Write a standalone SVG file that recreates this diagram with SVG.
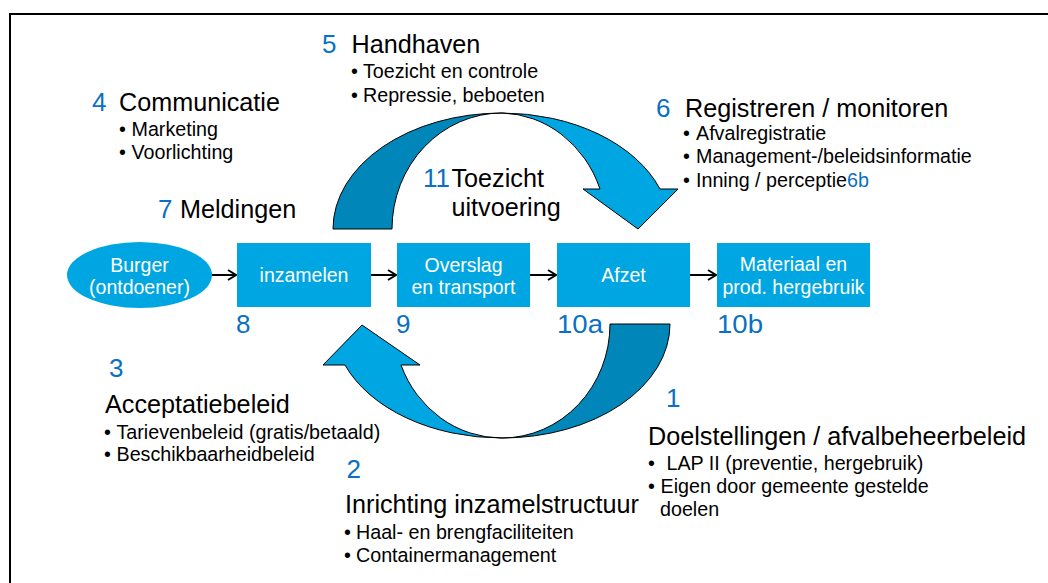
<svg xmlns="http://www.w3.org/2000/svg" width="1048" height="583" viewBox="0 0 1048 583">
<style>
text{font-family:"Liberation Sans",Arial,sans-serif;fill:#000}
.h{font-size:25.2px}
.b{font-size:19.7px}
.n{font-size:26px;fill:#0a70c4}
.w{font-size:19.5px;fill:#fff;text-anchor:middle}
.box{fill:#00a6e1}
.lt{fill:#00a6e1;stroke:#000;stroke-width:1}
.dk{fill:#0086b8;stroke:#000;stroke-width:1}
.con{stroke:#000;stroke-width:2;fill:none}
</style>
<defs>
<marker id="ah" markerWidth="12" markerHeight="12" refX="10" refY="6" orient="auto" markerUnits="userSpaceOnUse">
<path d="M2,1 L10,6 L2,11" fill="none" stroke="#000" stroke-width="2"/>
</marker>
</defs>
<rect width="1048" height="583" fill="#fff"/>
<rect x="10" y="14" width="1060" height="600" fill="none" stroke="#000" stroke-width="2"/>

<g id="arc-top">
<path class="dk" d="M333,229 A169 116 0 0 1 502,113 A110 116 0 0 0 392,229 Z"/>
<path class="lt" d="M502,113 A169 116 0 0 1 660,189 L678,189 L638,229 L583,189 L600,189 A107 116 0 0 0 502,113 Z"/>
</g>
<g id="arc-bottom">
<path class="dk" d="M610,324 L670,324 A168 114 0 0 1 502,438 A108 114 0 0 0 610,324 Z"/>
<path class="lt" d="M502,438 A168 114 0 0 1 345,365 L323,365 L362,325 L420,365 L401,365 A108 114 0 0 0 502,438 Z"/>
</g>

<g id="connectors">
<line class="con" x1="212" y1="275" x2="236" y2="275" marker-end="url(#ah)"/>
<line class="con" x1="371" y1="275" x2="396" y2="275" marker-end="url(#ah)"/>
<line class="con" x1="530" y1="275" x2="556" y2="275" marker-end="url(#ah)"/>
<line class="con" x1="690" y1="275" x2="716" y2="275" marker-end="url(#ah)"/>
</g>

<g id="burger">
<ellipse class="box" cx="139.5" cy="275" rx="72.5" ry="33"/>
<text class="w" x="139.5" y="272">Burger</text>
<text class="w" x="139.5" y="293.5">(ontdoener)</text>
</g>
<g id="inzamelen">
<rect class="box" x="237" y="243" width="134" height="64"/>
<text class="w" x="304" y="282">inzamelen</text>
<text class="n" x="236" y="333">8</text>
</g>
<g id="overslag">
<rect class="box" x="397" y="243" width="133" height="64"/>
<text class="w" x="463.5" y="272">Overslag</text>
<text class="w" x="463.5" y="293.5">en transport</text>
<text class="n" x="396" y="333">9</text>
</g>
<g id="afzet">
<rect class="box" x="557" y="243" width="133" height="64"/>
<text class="w" x="623.5" y="282">Afzet</text>
<text class="n" x="557" y="333" textLength="46" lengthAdjust="spacingAndGlyphs">10a</text>
</g>
<g id="materiaal">
<rect class="box" x="717" y="243" width="153" height="64"/>
<text class="w" x="793.5" y="271">Materiaal en</text>
<text class="w" x="793.5" y="293.5">prod. hergebruik</text>
<text class="n" x="717" y="333" textLength="46" lengthAdjust="spacingAndGlyphs">10b</text>
</g>

<g id="handhaven">
<text class="n" x="322" y="53">5</text>
<text class="h" x="351.5" y="53">Handhaven</text>
<text class="b" x="351" y="78">•</text><text class="b" x="363" y="78">Toezicht en controle</text>
<text class="b" x="351" y="101.5">•</text><text class="b" x="363" y="101.5">Repressie, beboeten</text>
</g>
<g id="communicatie">
<text class="n" x="92" y="110.5">4</text>
<text class="h" x="119" y="110.5">Communicatie</text>
<text class="b" x="119" y="136">•</text><text class="b" x="131.5" y="136">Marketing</text>
<text class="b" x="119" y="159">•</text><text class="b" x="131.5" y="159">Voorlichting</text>
</g>
<g id="meldingen">
<text class="n" x="158" y="218">7</text>
<text class="h" x="180" y="218">Meldingen</text>
</g>
<g id="registreren">
<text class="n" x="656" y="116.5">6</text>
<text class="h" x="685" y="116.5">Registreren / monitoren</text>
<text class="b" x="683" y="140">•</text><text class="b" x="696" y="140">Afvalregistratie</text>
<text class="b" x="683" y="163.3">•</text><text class="b" x="696" y="163.3">Management-/beleidsinformatie</text>
<text class="b" x="683" y="186.7">•</text><text class="b" x="696" y="186.7">Inning / perceptie<tspan style="fill:#0a70c4">6b</tspan></text>
</g>
<g id="toezicht">
<text class="n" x="423" y="187.3">11</text>
<text class="h" x="451.5" y="187.3">Toezicht</text>
<text class="h" x="451.5" y="216">uitvoering</text>
</g>
<g id="acceptatie">
<text class="n" x="109" y="376.5">3</text>
<text class="h" x="105" y="413">Acceptatiebeleid</text>
<text class="b" x="104" y="439">•</text><text class="b" x="116.5" y="439">Tarievenbeleid (gratis/betaald)</text>
<text class="b" x="104" y="460.7">•</text><text class="b" x="116.5" y="460.7">Beschikbaarheidbeleid</text>
</g>
<g id="inrichting">
<text class="n" x="346.5" y="478">2</text>
<text class="h" x="345" y="512.5">Inrichting inzamelstructuur</text>
<text class="b" x="344" y="539">•</text><text class="b" x="356" y="539">Haal- en brengfaciliteiten</text>
<text class="b" x="344" y="561.7">•</text><text class="b" x="356" y="561.7">Containermanagement</text>
</g>
<g id="doelstellingen">
<text class="n" x="666" y="406.5">1</text>
<text class="h" x="648" y="445">Doelstellingen / afvalbeheerbeleid</text>
<text class="b" x="648" y="470">•</text><text class="b" x="666.5" y="470">LAP II (preventie, hergebruik)</text>
<text class="b" x="648" y="493.3">•</text><text class="b" x="660.5" y="493.3">Eigen door gemeente gestelde</text>
<text class="b" x="660" y="516">doelen</text>
</g>
</svg>
